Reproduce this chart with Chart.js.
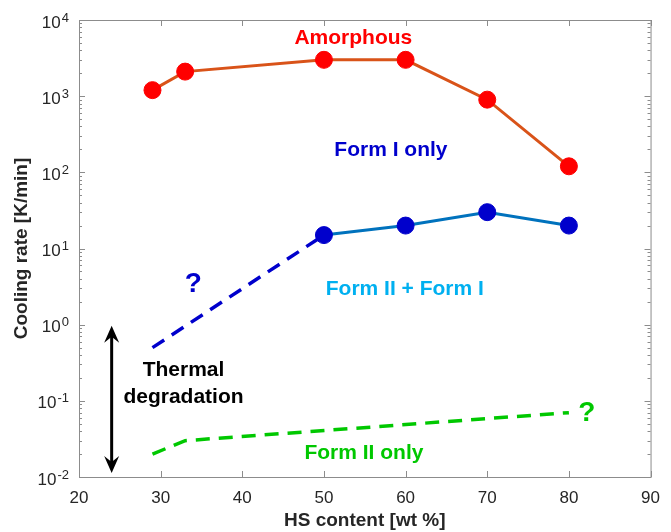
<!DOCTYPE html>
<html>
<head>
<meta charset="utf-8">
<title>Cooling rate vs HS content</title>
<script src="https://cdn.jsdelivr.net/npm/chart.js@4.4.1/dist/chart.umd.min.js"></script>
<style>
  html, body { margin: 0; padding: 0; background: #fff; }
  canvas { display: block; }
</style>
</head>
<body>
<canvas id="chart" width="671" height="532"></canvas>
<script>
// Amorphous boundary (critical cooling rate)
const amorphousContent = [29, 33, 50, 60, 70, 80];
const amorphousRate = [1200, 2100, 3000, 3000, 900, 120];

// Form I only boundary
const formIContent = [50, 60, 70, 80];
const formIRate = [15, 20, 30, 20];

// extrapolated Form I boundary (uncertain)
const formIGuessContent = [29, 50];
const formIGuessRate = [0.5, 15];

// Form II only boundary (uncertain)
const formIIContent = [29, 33, 80];
const formIIRate = [0.02, 0.03, 0.07];

const xTickValues = [20, 30, 40, 50, 60, 70, 80, 90];
const yDecades = [-2, -1, 0, 1, 2, 3, 4];

// region labels: [text, x, y, colour, size]
const regionLabels = [
  ['Amorphous', 53.6, 5700, '#ff0000', 21],
  ['Form I only', 58.2, 194, '#0000cc', 21],
  ['Form II + Form I', 59.9, 2.88, '#00b0f0', 21],
  ['Form II only', 54.9, 0.0206, '#00c800', 21],
  ['Thermal', 32.8, 0.249, '#000000', 21],
  ['degradation', 32.8, 0.110, '#000000', 21],
  ['?', 34.0, 3.34, '#0000cc', 28],
  ['?', 82.2, 0.0696, '#00c800', 28]
];

// double-headed arrow for the degradation range
const arrowX = 24;
const arrowRange = [0.0113, 0.97];

const FONT = '"Liberation Sans", Arial, Helvetica, sans-serif';
const AXIS_GRAY = '#8c8c8c';
const TEXT_GRAY = '#262626';

function pts(xs, ys) {
  return xs.map((x, i) => ({ x: x, y: ys[i] }));
}

function line(ctx, x1, y1, x2, y2) {
  ctx.beginPath();
  ctx.moveTo(x1, y1);
  ctx.lineTo(x2, y2);
  ctx.stroke();
}

function arrowHead(ctx, x, tipY, dir) {
  ctx.beginPath();
  ctx.moveTo(x, tipY);
  ctx.lineTo(x - 7.5, tipY + dir * 17);
  ctx.lineTo(x, tipY + dir * 11);
  ctx.lineTo(x + 7.5, tipY + dir * 17);
  ctx.closePath();
  ctx.fill();
}

// box, inward ticks, superscript y labels and annotations
const decorations = {
  id: 'decorations',
  afterDraw(chart) {
    const { ctx, chartArea: a, scales: { x, y } } = chart;
    ctx.save();

    ctx.strokeStyle = AXIS_GRAY;
    ctx.lineWidth = 1;
    ctx.strokeRect(a.left + 0.5, a.top + 0.5, a.right - a.left, a.bottom - a.top);

    xTickValues.forEach(v => {
      const px = Math.round(x.getPixelForValue(v)) + 0.5;
      line(ctx, px, a.bottom, px, a.bottom - 6);
      line(ctx, px, a.top, px, a.top + 6);
    });

    yDecades.forEach(e => {
      for (let m = 1; m <= 9; m++) {
        const v = m * Math.pow(10, e);
        if (v > 10000) break;
        const py = Math.round(y.getPixelForValue(v)) + 0.5;
        const len = m === 1 ? 6 : 3;
        line(ctx, a.left, py, a.left + len, py);
        line(ctx, a.right, py, a.right - len, py);
      }
    });

    // y tick labels as 10 with a superscript exponent
    ctx.fillStyle = TEXT_GRAY;
    ctx.textBaseline = 'alphabetic';
    yDecades.forEach(e => {
      const py = y.getPixelForValue(Math.pow(10, e));
      const sup = String(e);
      ctx.font = '13px ' + FONT;
      const supW = ctx.measureText(sup).width;
      ctx.font = '17px ' + FONT;
      const baseW = ctx.measureText('10').width;
      const right = a.left - 10;
      ctx.textAlign = 'left';
      ctx.fillText('10', right - supW - baseW - 1, py + 7.5);
      ctx.font = '13px ' + FONT;
      ctx.fillText(sup, right - supW, py + 1.5);
    });

    // degradation arrow
    const ax = x.getPixelForValue(arrowX);
    const yTop = y.getPixelForValue(arrowRange[1]);
    const yBot = y.getPixelForValue(arrowRange[0]);
    ctx.strokeStyle = '#000';
    ctx.fillStyle = '#000';
    ctx.lineWidth = 3;
    line(ctx, ax, yTop + 10, ax, yBot - 10);
    arrowHead(ctx, ax, yTop, 1);
    arrowHead(ctx, ax, yBot, -1);

    ctx.textAlign = 'center';
    ctx.textBaseline = 'middle';
    regionLabels.forEach(([text, lx, ly, color, size]) => {
      ctx.font = 'bold ' + size + 'px ' + FONT;
      ctx.fillStyle = color;
      ctx.fillText(text, x.getPixelForValue(lx), y.getPixelForValue(ly));
    });

    ctx.restore();
  }
};

new Chart(document.getElementById('chart'), {
  type: 'line',
  data: {
    datasets: [
      {
        data: pts(amorphousContent, amorphousRate),
        borderColor: '#d95319',
        borderWidth: 3,
        pointRadius: 8.5,
        pointBackgroundColor: '#ff0000',
        pointBorderColor: '#ff0000',
        pointBorderWidth: 1,
        order: 0
      },
      {
        data: pts(formIContent, formIRate),
        borderColor: '#0072bd',
        borderWidth: 3,
        pointRadius: 8.5,
        pointBackgroundColor: '#0000cc',
        pointBorderColor: '#0000cc',
        pointBorderWidth: 1,
        order: 1
      },
      {
        data: pts(formIGuessContent, formIGuessRate),
        borderColor: '#0000cc',
        borderWidth: 3.5,
        borderDash: [14, 9],
        pointRadius: 0,
        order: 2
      },
      {
        data: pts(formIIContent, formIIRate),
        borderColor: '#00c800',
        borderWidth: 3.5,
        borderDash: [14, 9],
        pointRadius: 0,
        order: 2
      }
    ]
  },
  options: {
    responsive: false,
    animation: false,
    events: [],
    layout: { padding: { top: 20, right: 13 } },
    scales: {
      x: {
        type: 'linear',
        min: 20,
        max: 90,
        afterFit(scale) { scale.height = 55; },
        afterBuildTicks(scale) { scale.ticks = xTickValues.map(v => ({ value: v })); },
        grid: { display: false, drawTicks: false },
        border: { display: false },
        ticks: {
          padding: 11,
          color: TEXT_GRAY,
          font: { family: FONT, size: 17 }
        },
        title: {
          display: true,
          text: 'HS content [wt %]',
          color: TEXT_GRAY,
          font: { family: FONT, size: 19, weight: 'bold' },
          padding: { top: 0, bottom: 0 }
        }
      },
      y: {
        type: 'logarithmic',
        min: 0.01,
        max: 10000,
        afterFit(scale) { scale.width = 79; },
        grid: { display: false, drawTicks: false },
        border: { display: false },
        ticks: { display: false },
        title: {
          display: true,
          text: 'Cooling rate [K/min]',
          color: TEXT_GRAY,
          font: { family: FONT, size: 19, weight: 'bold' },
          padding: { top: 10, bottom: 10 }
        }
      }
    },
    plugins: {
      legend: { display: false },
      tooltip: { enabled: false }
    }
  },
  plugins: [decorations]
});
</script>
</body>
</html>
